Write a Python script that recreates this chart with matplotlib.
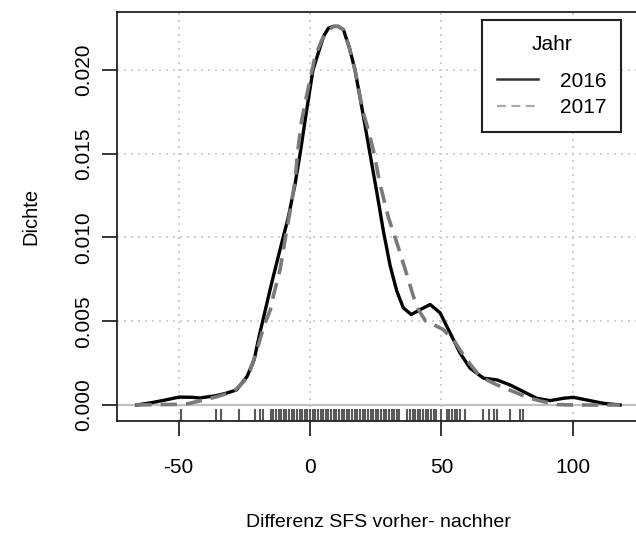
import matplotlib
matplotlib.use("Agg")
from matplotlib import pyplot as plt
from matplotlib.lines import Line2D

plt.rcParams['font.family'] = ['Liberation Sans', 'DejaVu Sans']

# density curves
x_2016 = [-66, -61, -55, -50, -45, -42, -36, -32, -28, -24, -21.3, -19.4, -17.3, -14.6,
          -11.4, -8.3, -5.7, -3.8, -1.3, 1.1, 2.5, 5.1, 7.0, 8.9, 10.8, 12.7, 15.0, 17.1,
          20.0, 22.8, 25.4, 28.0, 30.5, 33.0, 35.5, 38.5, 42.0, 45.7, 49.5, 53.3, 57.1,
          60.9, 66.0, 71.1, 76.1, 81.2, 86.3, 91.4, 96.4, 100.2, 105.3, 111.7, 118]
y_2016 = [0.0, 0.00012, 0.0003, 0.00047, 0.00046, 0.00042, 0.00055, 0.0007, 0.0009, 0.0017,
          0.0027, 0.0041, 0.0055, 0.0073, 0.0093, 0.0112, 0.0132, 0.0150, 0.0176, 0.0200,
          0.0207, 0.0220, 0.0225, 0.0226, 0.0226, 0.0224, 0.0213, 0.0200, 0.0175, 0.0150,
          0.0127, 0.0103, 0.0083, 0.0068, 0.0058, 0.0054, 0.0057, 0.0060, 0.0055, 0.0043,
          0.0031, 0.0022, 0.0016, 0.0015, 0.0012, 0.0008, 0.0004, 0.00026, 0.0004, 0.00046,
          0.0003, 0.0001, 0.0]

x_2017 = [-66.5, -60, -53, -47, -40.5, -35.4, -29.1, -25.2, -22.7, -20.2, -17.6, -15.1,
          -14.0, -11.4, -9.5, -7.6, -5.7, -4.5, -3.2, -0.6, 1.9, 4.5, 7.0, 9.0, 10.8, 12.7,
          15.0, 17.1, 20.0, 22.0, 24.1, 26.6, 29.8, 33.0, 36.2, 39.3, 41.2, 44.0, 47.0,
          50.7, 54.5, 59.6, 64.7, 71.1, 77.4, 83.7, 88.8, 93.9, 100, 110, 118]
y_2017 = [0.0, 0.00002, 0.00003, 0.00006, 0.0003, 0.0005, 0.0008, 0.0014, 0.0021, 0.0033,
          0.0047, 0.0057, 0.0065, 0.0081, 0.0099, 0.0116, 0.0134, 0.0154, 0.0170, 0.0190,
          0.0208, 0.0218, 0.0224, 0.0226, 0.0226, 0.0224, 0.0213, 0.0200, 0.0176, 0.0165,
          0.0152, 0.0132, 0.0112, 0.0097, 0.0081, 0.0065, 0.0057, 0.0050, 0.0048, 0.0045,
          0.0039, 0.0027, 0.0017, 0.0012, 0.0008, 0.0004, 0.0002, 0.00003, 0.0, 0.0, 0.0]

# observed differences (rug)
rug_values = [-49, -36, -34, -27, -21, -19, -18,
              -15, -14, -13, -12, -11, -10, -9, -8, -7, -6, -5, -4, -3, -2, -1, 0,
              1, 2, 3, 4, 5, 6, 7, 8, 9, 10, 11, 12, 13, 14, 15, 16, 17, 18, 19, 20,
              21, 22, 23, 24, 25, 26, 27, 28, 29, 30, 31, 32, 33, 34,
              37, 38, 39, 40, 41, 42, 43, 44, 45, 46, 47, 48, 50, 52, 53, 54, 55, 56,
              57, 59, 66, 68, 70, 71, 76, 80, 81]

x_ticks = [-50, 0, 50, 100]
y_ticks = [0.000, 0.005, 0.010, 0.015, 0.020]
y_ticklabels = ['0.000', '0.005', '0.010', '0.015', '0.020']

fig = plt.figure(figsize=(6.36, 5.33), dpi=100)
ax = fig.add_axes([117 / 636, 1 - 421 / 533, 522.5 / 636, 409 / 533])

ax.set_xlim(-73.5, 125.4)
ax.set_ylim(-0.000955, 0.02346)

# dotted grid like R's grid()
for xv in x_ticks:
    ax.axvline(xv, color='#c8c8c8', lw=1.2, ls=(0, (1.2, 3)), zorder=1)
for yv in y_ticks[1:]:
    ax.axhline(yv, color='#c8c8c8', lw=1.2, ls=(0, (1.2, 3)), zorder=1)
ax.axhline(0, color='#c0c0c0', lw=1.6, zorder=1)

ax.plot(x_2016, y_2016, color='black', lw=2.4, zorder=3)
ax.plot(x_2017, y_2017, color='#7a7a7a', lw=2.6, ls=(0, (4.5, 2.5)), zorder=3)

# rug along the bottom
ax.vlines(rug_values, 0, 0.03, transform=ax.get_xaxis_transform(),
          color='#5a5a5a', lw=1.5, zorder=2)

ax.set_xticks(x_ticks)
ax.set_xticklabels(['-50', '0', '50', '100'])
ax.set_yticks(y_ticks)
ax.set_yticklabels(y_ticklabels, rotation=90, va='center')
ax.tick_params(axis='both', direction='out', length=10.5, width=1.1, labelsize=15,
               color='black')
ax.tick_params(axis='x', pad=16)
ax.tick_params(axis='y', pad=7)
for sp in ax.spines.values():
    sp.set_linewidth(1.3)
    sp.set_color('#222222')

ax.set_xlabel('Differenz SFS vorher- nachher', fontsize=14, labelpad=27)
ax.set_ylabel('Dichte', fontsize=14.5, labelpad=24)

handles = [Line2D([], [], color='#333333', lw=1.8),
           Line2D([], [], color='#aaaaaa', lw=1.6, ls=(0, (4, 2.5)))]
leg = ax.legend(handles, ['2016', '2017'], title='Jahr', loc='upper left',
                bbox_to_anchor=(482 / 636, 1 - 20 / 533), bbox_transform=fig.transFigure,
                borderaxespad=0, fontsize=15, title_fontsize=15, fancybox=False,
                framealpha=1, edgecolor='#222222', handlelength=2.0, handletextpad=1.05,
                borderpad=0.7, labelspacing=0.35)
leg.get_frame().set_linewidth(1.5)
leg._legend_box.sep = 13

fig.savefig('out.png', dpi=100)
